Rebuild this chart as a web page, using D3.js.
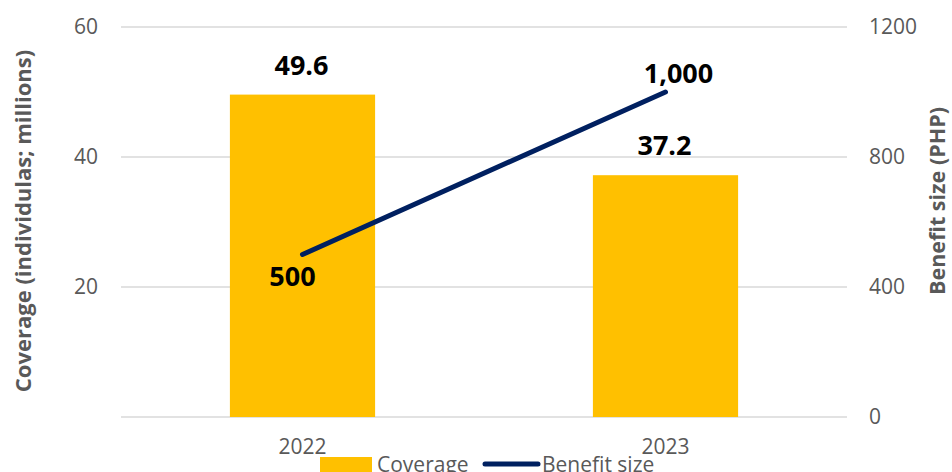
<!DOCTYPE html>
<html>
<head>
<meta charset="utf-8">
<script src="https://cdn.jsdelivr.net/npm/d3@7"></script>
<style>
  html, body { margin: 0; padding: 0; background: #fff; }
  svg { display: block; font-family: "Open Sans", "Liberation Sans", sans-serif; }
</style>
</head>
<body>
<svg id="chart" width="952" height="472"></svg>
<script>
// Data
const years = ["2022", "2023"];
const coverage = [49.6, 37.2];          // individuals, millions
const benefit = [500, 1000];            // PHP
const coverageTicks = [20, 40, 60];
const benefitTicks = [0, 400, 800, 1200];
const coverageLabels = ["49.6", "37.2"];
const benefitLabels = ["500", "1,000"];

const W = 952, H = 472;
const margin = { top: 27, right: 105, bottom: 55, left: 121 };
const plotW = W - margin.left - margin.right;
const plotH = H - margin.top - margin.bottom;

const svg = d3.select("#chart");
const g = svg.append("g").attr("transform", `translate(${margin.left},${margin.top})`);

const x = d3.scaleBand().domain(years).range([0, plotW]).padding(0);
const yL = d3.scaleLinear().domain([0, 60]).range([plotH, 0]);
const yR = d3.scaleLinear().domain([0, 1200]).range([plotH, 0]);

const axisColor = "#595959";
const gridColor = "#d9d9d9";
const tickFont = "21px";

// Gridlines (shared by both axes)
g.append("g").selectAll("line")
  .data([0].concat(coverageTicks))
  .join("line")
  .attr("x1", 0).attr("x2", plotW)
  .attr("y1", d => yL(d)).attr("y2", d => yL(d))
  .attr("stroke", gridColor).attr("stroke-width", 1.3);

// Left axis
const leftAxis = g.append("g")
  .call(d3.axisLeft(yL).tickValues(coverageTicks).tickSize(0).tickPadding(23));
leftAxis.select(".domain").remove();
leftAxis.selectAll("text")
  .attr("fill", axisColor).style("font-size", tickFont)
  .style("font-family", "'Open Sans', sans-serif");

// Right axis
const rightAxis = g.append("g")
  .attr("transform", `translate(${plotW},0)`)
  .call(d3.axisRight(yR).tickValues(benefitTicks).tickFormat(d3.format("d")).tickSize(0).tickPadding(22));
rightAxis.select(".domain").remove();
rightAxis.selectAll("text")
  .attr("fill", axisColor).style("font-size", tickFont)
  .style("font-family", "'Open Sans', sans-serif");

// Bottom axis
const bottomAxis = g.append("g")
  .attr("transform", `translate(0,${plotH})`)
  .call(d3.axisBottom(x).tickSize(0).tickPadding(22));
bottomAxis.select(".domain").remove();
bottomAxis.selectAll("text")
  .attr("fill", axisColor).style("font-size", tickFont)
  .style("font-family", "'Open Sans', sans-serif");

// Bars
const barW = x.bandwidth() * 0.4;
g.append("g").selectAll("rect")
  .data(years)
  .join("rect")
  .attr("x", (d) => x(d) + (x.bandwidth() - barW) / 2)
  .attr("width", barW)
  .attr("y", (d, i) => yL(coverage[i]))
  .attr("height", (d, i) => plotH - yL(coverage[i]))
  .attr("fill", "#ffc000");

// Line
const cx = d => x(d) + x.bandwidth() / 2;
const line = d3.line()
  .x((d, i) => cx(years[i]))
  .y(d => yR(d));
g.append("path")
  .datum(benefit)
  .attr("d", line)
  .attr("fill", "none")
  .attr("stroke", "#002060")
  .attr("stroke-width", 5)
  .attr("stroke-linecap", "round");

// Data labels
const labelStyle = sel => sel
  .attr("text-anchor", "middle")
  .attr("fill", "#000")
  .style("font-weight", "bold")
  .style("font-size", "27px")
  .style("font-family", "'Open Sans', sans-serif");

g.append("g").selectAll("text")
  .data(years)
  .join("text")
  .attr("x", d => cx(d) - 1)
  .attr("y", (d, i) => yL(coverage[i]) - 20)
  .text((d, i) => coverageLabels[i])
  .call(labelStyle);

g.append("g").selectAll("text")
  .data(years)
  .join("text")
  .attr("x", (d, i) => cx(d) + (i === 0 ? -10 : 13))
  .attr("y", (d, i) => yR(benefit[i]) + (i === 0 ? 31 : -9))
  .text((d, i) => benefitLabels[i])
  .call(labelStyle);

// Axis titles
svg.append("text")
  .attr("transform", `translate(31,${margin.top + plotH / 2 - 1}) rotate(-90)`)
  .attr("text-anchor", "middle")
  .attr("fill", axisColor)
  .style("font-weight", "bold").style("font-size", "22px")
  .text("Coverage (individulas; millions)");

svg.append("text")
  .attr("transform", `translate(945,${margin.top + 174}) rotate(-90)`)
  .attr("text-anchor", "middle")
  .attr("fill", axisColor)
  .style("font-weight", "bold").style("font-size", "21.5px")
  .text("Benefit size (PHP)");

// Legend
const legend = svg.append("g").attr("transform", "translate(320,457)");
legend.append("rect").attr("x", 0).attr("y", 0).attr("width", 52).attr("height", 15).attr("fill", "#ffc000");
legend.append("text").attr("x", 57).attr("y", 15).attr("fill", axisColor)
  .style("font-size", tickFont).text("Coverage");
legend.append("line").attr("x1", 165).attr("x2", 218).attr("y1", 7).attr("y2", 7)
  .attr("stroke", "#002060").attr("stroke-width", 5).attr("stroke-linecap", "round");
legend.append("text").attr("x", 222).attr("y", 15).attr("fill", axisColor)
  .style("font-size", tickFont).text("Benefit size");
</script>
</body>
</html>
